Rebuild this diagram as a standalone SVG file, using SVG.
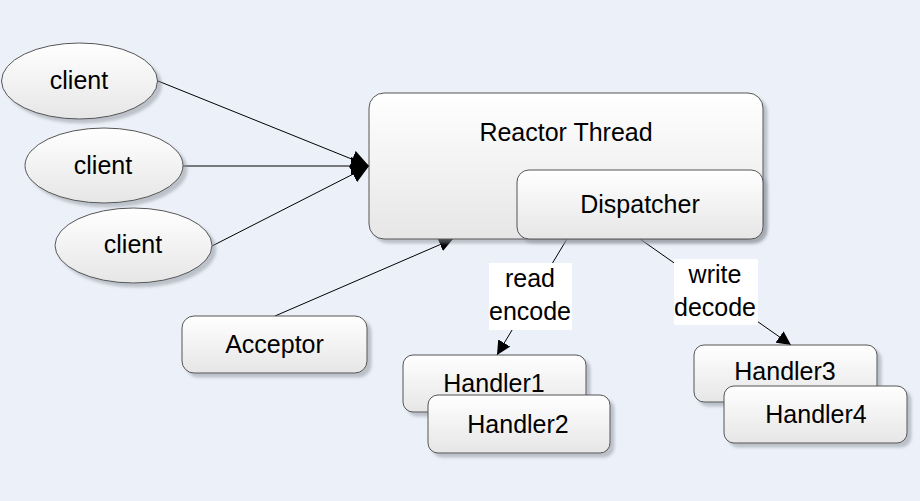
<svg xmlns="http://www.w3.org/2000/svg" width="920" height="501" viewBox="0 0 920 501">
<style>
text{font-family:"Liberation Sans",Arial,sans-serif;font-size:25px;fill:#000;text-anchor:middle}
.shape{fill:url(#g);stroke:#555;stroke-width:1;filter:url(#sh)}
.lab{fill:#fff;stroke:none}
.con{stroke:#000;stroke-width:1;fill:none}
</style>
<defs>
<linearGradient id="g" x1="0" y1="0" x2="0" y2="1">
<stop offset="0" stop-color="#ffffff"/>
<stop offset="1" stop-color="#e6e6e6"/>
</linearGradient>
<filter id="sh" x="-10%" y="-10%" width="130%" height="140%">
<feDropShadow dx="4" dy="4" stdDeviation="1.5" flood-color="#8a909a" flood-opacity="0.5"/>
</filter>
<marker id="arr" viewBox="0 0 10 10" refX="10" refY="5" markerWidth="14" markerHeight="14" markerUnits="userSpaceOnUse" orient="auto">
<path d="M0,0 L10,5 L0,10 z" fill="#000"/>
</marker>
<marker id="arrL" viewBox="0 0 10 10" refX="10" refY="5" markerWidth="18" markerHeight="18" markerUnits="userSpaceOnUse" orient="auto">
<path d="M0,0 L10,5 L0,10 z" fill="#000"/>
</marker>
</defs>
<rect width="920" height="501" fill="#ecf1f9"/>
<g id="connectors">
<line class="con" x1="158" y1="81" x2="369" y2="166" marker-end="url(#arrL)"/>
<line class="con" x1="183" y1="166" x2="369" y2="166" marker-end="url(#arrL)"/>
<line class="con" x1="212" y1="246" x2="369" y2="166" marker-end="url(#arrL)"/>
<line class="con" x1="275" y1="316" x2="453" y2="239" marker-end="url(#arr)"/>
<line class="con" x1="567" y1="239" x2="497" y2="355" marker-end="url(#arr)"/>
<line class="con" x1="640" y1="239" x2="791" y2="345" marker-end="url(#arr)"/>
</g>
<g id="client1"><ellipse class="shape" cx="79.5" cy="81" rx="78" ry="38"/><text x="79" y="89">client</text></g>
<g id="client2"><ellipse class="shape" cx="104" cy="165.5" rx="79" ry="37.5"/><text x="103" y="174">client</text></g>
<g id="client3"><ellipse class="shape" cx="133.5" cy="245.5" rx="78.5" ry="37.5"/><text x="133" y="253">client</text></g>
<g id="reactor"><rect class="shape" x="369" y="93" width="394" height="146" rx="15"/><text x="566" y="141">Reactor Thread</text></g>
<g id="dispatcher"><rect class="shape" x="517" y="170" width="246" height="69" rx="12"/><text x="640" y="213">Dispatcher</text></g>
<g id="acceptor"><rect class="shape" x="182" y="316" width="185" height="57" rx="12"/><text x="274.5" y="353">Acceptor</text></g>
<g id="label-read"><rect class="lab" x="489" y="263" width="83" height="67"/><text x="530" y="287">read</text><text x="530" y="320">encode</text></g>
<g id="label-write"><rect class="lab" x="674" y="259" width="84" height="66"/><text x="715" y="283">write</text><text x="715" y="316">decode</text></g>
<g id="handler1"><rect class="shape" x="403" y="355" width="183" height="57" rx="10"/><text x="494" y="392">Handler1</text></g>
<g id="handler2"><rect class="shape" x="428" y="395" width="182" height="58" rx="10"/><text x="518" y="433">Handler2</text></g>
<g id="handler3"><rect class="shape" x="694" y="345" width="183" height="57" rx="10"/><text x="785" y="380">Handler3</text></g>
<g id="handler4"><rect class="shape" x="724" y="386" width="183" height="57" rx="10"/><text x="816" y="423">Handler4</text></g>
</svg>
